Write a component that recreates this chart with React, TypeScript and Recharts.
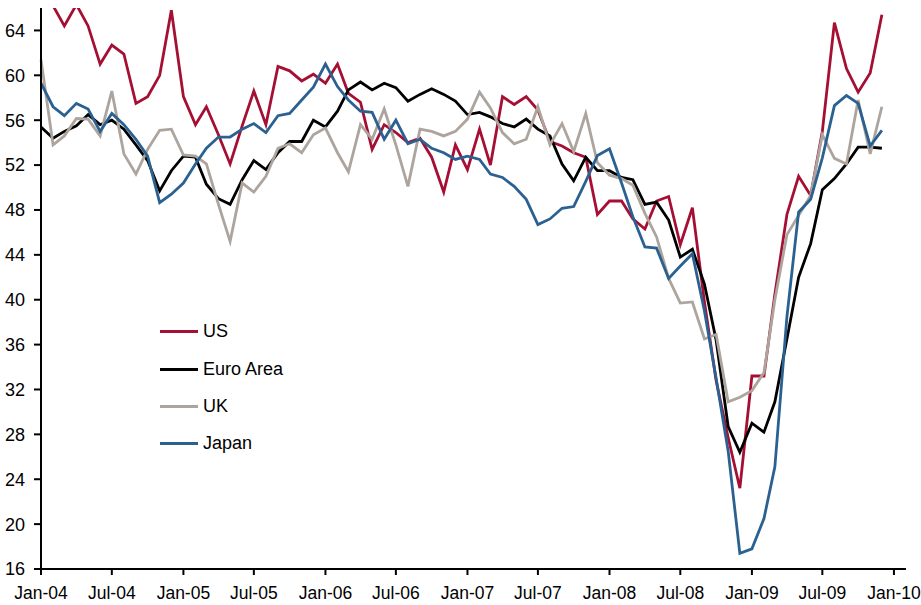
import React from 'react';
import { LineChart, Line, XAxis, YAxis, Legend } from 'recharts';

const FONT = '"Liberation Sans", Arial, Helvetica, sans-serif';

// monthly readings, Jan-04 .. Dec-09
const usValues = [
  67.5, 66.2, 64.4, 66.3, 64.4, 61.0, 62.7, 61.9, 57.5, 58.1, 60.0, 65.8,
  58.1, 55.6, 57.2, 54.7, 52.1, 55.5, 58.6, 55.6, 60.8, 60.4, 59.5, 60.1,
  59.3, 61.0, 58.4, 57.6, 53.4, 55.6, 54.9, 54.0, 54.4, 52.7, 49.6, 53.8,
  51.6, 55.2, 52.0, 58.1, 57.4, 58.1, 56.9, 54.1, 53.7, 53.1, 52.7, 47.6,
  48.8, 48.8, 47.2, 46.3, 48.8, 49.2, 44.9, 48.2, 39.8, 32.8, 27.7, 23.2,
  33.2, 33.2, 40.5, 47.6, 51.0, 49.3, 55.0, 64.7, 60.6, 58.5, 60.2, 65.4,
];
const euroValues = [
  55.4, 54.4, 55.0, 55.5, 56.5, 55.6, 56.0, 55.2, 53.8, 52.4, 49.7, 51.5,
  52.8, 52.7, 50.3, 49.0, 48.5, 50.7, 52.4, 51.6, 53.1, 54.1, 54.1, 56.0,
  55.4, 56.8, 58.7, 59.4, 58.7, 59.3, 58.9, 57.7, 58.3, 58.8, 58.3, 57.7,
  56.5, 56.7, 56.3, 55.7, 55.4, 56.1, 55.2, 54.6, 52.1, 50.6, 52.7, 51.5,
  51.5, 50.9, 50.7, 48.5, 48.7, 47.1, 43.8, 44.5, 41.4, 36.4, 28.7, 26.4,
  29.0, 28.2, 30.9, 36.5, 42.0, 45.0, 49.8, 50.8, 52.1, 53.6, 53.6, 53.5,
];
const ukValues = [
  61.4, 53.8, 54.6, 56.15, 56.1, 54.6, 58.6, 53.0, 51.2, 53.4, 55.1, 55.2,
  52.9, 52.8, 52.1, 48.5, 45.2, 50.4, 49.6, 51.0, 53.5, 53.9, 53.1, 54.7,
  55.3, 53.1, 51.4, 55.6, 54.3, 57.0, 53.8, 50.1, 55.2, 55.0, 54.6, 55.0,
  56.1, 58.5, 57.1, 54.9, 53.9, 54.3, 57.2, 53.8, 55.7, 53.2, 56.6, 52.2,
  51.1, 50.8, 50.2, 47.7, 45.6, 41.9, 39.7, 39.8, 36.5, 36.9, 30.9, 31.3,
  31.9, 33.5, 40.0, 45.8, 47.5, 49.3, 54.7, 52.6, 52.1, 57.8, 53.0, 57.2,
];
const japanValues = [
  59.3, 57.2, 56.4, 57.5, 57.0, 55.0, 56.6, 55.6, 54.3, 52.8, 48.65, 49.4,
  50.4, 52.1, 53.5, 54.5, 54.5, 55.2, 55.7, 54.9, 56.4, 56.6, 57.8, 58.95,
  61.0, 59.0, 57.8, 56.8, 56.7, 54.3, 56.0, 53.9, 54.3, 53.5, 53.1, 52.5,
  52.8, 52.5, 51.2, 50.9, 50.1, 48.95, 46.7, 47.2, 48.15, 48.3, 50.55, 52.85,
  53.45, 50.4, 47.4, 44.7, 44.6, 41.9, 43.0, 44.1, 39.0, 33.0, 26.5, 17.4,
  17.8, 20.5, 25.1, 38.5, 47.8, 48.95, 52.65, 57.3, 58.2, 57.5, 53.7, 55.1,
];

const tickLabels = [
  'Jan-04', 'Jul-04', 'Jan-05', 'Jul-05', 'Jan-06', 'Jul-06', 'Jan-07',
  'Jul-07', 'Jan-08', 'Jul-08', 'Jan-09', 'Jul-09', 'Jan-10',
];
const yTicks = [16, 20, 24, 28, 32, 36, 40, 44, 48, 52, 56, 60, 64];

const series = [
  { key: 'us', name: 'US', color: '#A50F34' },
  { key: 'euro', name: 'Euro Area', color: '#000000' },
  { key: 'uk', name: 'UK', color: '#ADA59D' },
  { key: 'japan', name: 'Japan', color: '#2A6191' },
];

const monthTime = (i: number) => Date.UTC(2004 + Math.floor(i / 12), i % 12, 1);

const data = usValues.map((v, i) => ({
  t: monthTime(i),
  us: v,
  euro: euroValues[i],
  uk: ukValues[i],
  japan: japanValues[i],
}));

const xTicks = tickLabels.map((_, i) => monthTime(i * 6));
const xDomain = [monthTime(0), monthTime(73)];

const labelFor = (t: number) => {
  const idx = xTicks.indexOf(t);
  return idx >= 0 ? tickLabels[idx] : '';
};

const LegendBox = () => (
  <div style={{ fontFamily: FONT, fontSize: 18, color: '#000' }}>
    {series.map((s) => (
      <div key={s.key} style={{ display: 'flex', alignItems: 'center', height: 37.4 }}>
        <span style={{ display: 'inline-block', width: 38, height: 3, background: s.color, marginRight: 5 }} />
        <span>{s.name}</span>
      </div>
    ))}
  </div>
);

export default function App() {
  return (
    <div style={{ position: 'absolute', left: 0, top: 0, width: 921, height: 605, background: '#fff' }}>
      <LineChart width={921} height={605} data={data} margin={{ top: 8, right: 15, left: 0, bottom: 0 }}>
        <XAxis
          dataKey="t"
          type="number"
          scale="time"
          domain={xDomain}
          ticks={xTicks}
          tickFormatter={labelFor}
          height={36}
          stroke="#000"
          strokeWidth={2}
          tickSize={6}
          tickMargin={12}
          tick={{ fill: '#000', fontSize: 17.5, fontFamily: FONT }}
          interval={0}
        />
        <YAxis
          type="number"
          domain={[16, 66]}
          ticks={yTicks}
          allowDataOverflow
          width={41}
          stroke="#000"
          strokeWidth={2}
          tickSize={7}
          tickMargin={9}
          tick={{ fill: '#000', fontSize: 18, fontFamily: FONT }}
          interval={0}
        />
        <Legend
          layout="vertical"
          align="center"
          verticalAlign="middle"
          content={() => <LegendBox />}
          wrapperStyle={{ left: 160, top: 313, width: 'auto' }}
        />
        {series.map((s) => (
          <Line
            key={s.key}
            dataKey={s.key}
            name={s.name}
            stroke={s.color}
            strokeWidth={2.8}
            dot={false}
            activeDot={false}
            isAnimationActive={false}
            strokeLinejoin="miter"
          />
        ))}
      </LineChart>
    </div>
  );
}
